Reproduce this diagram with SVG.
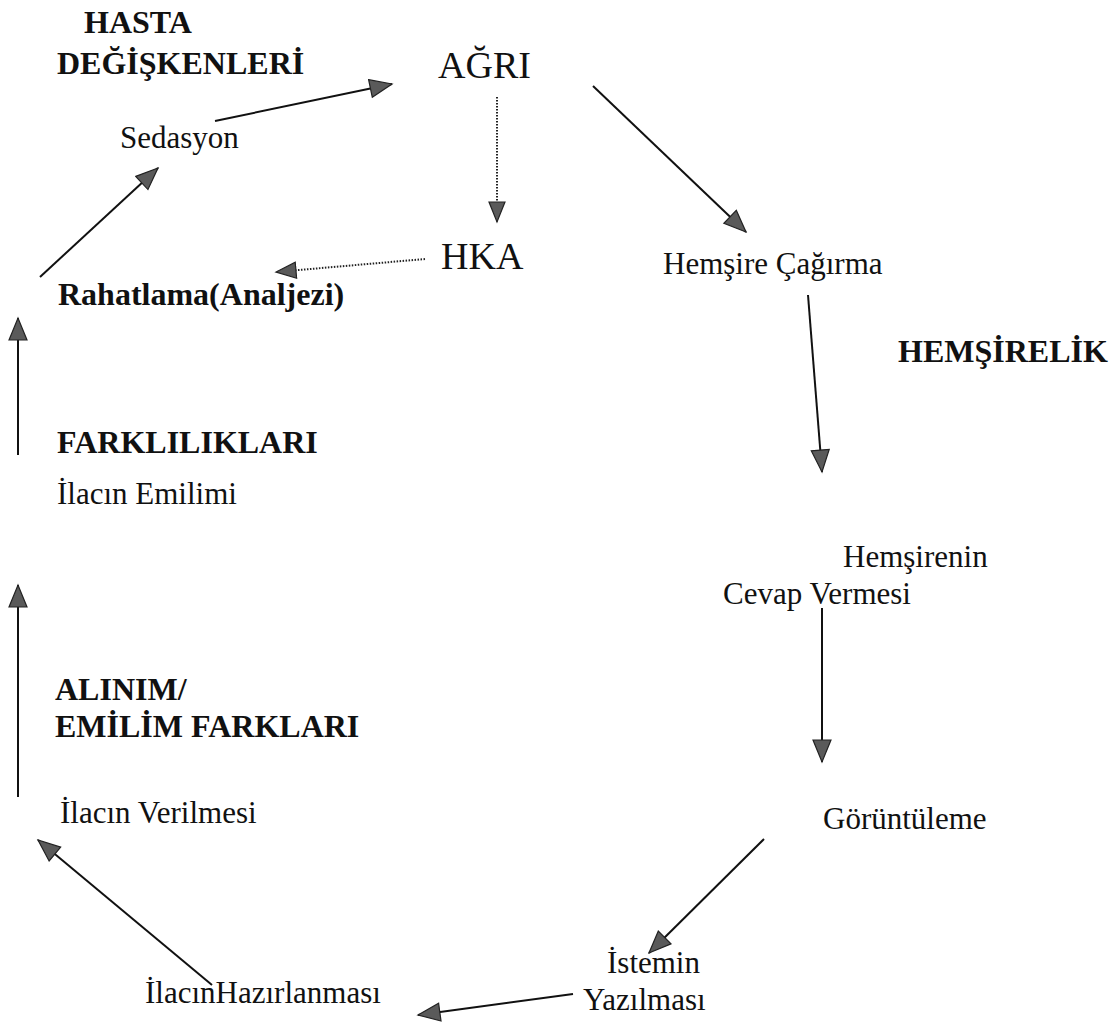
<svg xmlns="http://www.w3.org/2000/svg" width="1119" height="1023" viewBox="0 0 1119 1023">
<defs>
<marker id="ah" markerUnits="userSpaceOnUse" markerWidth="26" markerHeight="22" refX="23" refY="10" orient="auto">
<path d="M1,1 L23,10 L1,19 Z" fill="#5a5a5a" stroke="#222" stroke-width="1.2"/>
</marker>
<marker id="ahs" markerUnits="userSpaceOnUse" markerWidth="24" markerHeight="20" refX="21" refY="9" orient="auto">
<path d="M1,1 L21,9 L1,17 Z" fill="#5a5a5a" stroke="#222" stroke-width="1.2"/>
</marker>
</defs>
<style>
text{font-family:"Liberation Serif","Times New Roman",serif;fill:#111}
.r{font-size:31px}
.b{font-size:32px;font-weight:bold}
.big{font-size:38px}
.c{stroke:#111;stroke-width:2;fill:none;marker-end:url(#ah)}
.d{stroke:#222;stroke-width:2;stroke-dasharray:1.5 1.5;fill:none;marker-end:url(#ahs)}
</style>
<rect width="1119" height="1023" fill="#fff"/>
<g id="connectors">
<line class="c" x1="215" y1="121" x2="392" y2="84"/>
<line class="c" x1="593" y1="86" x2="746" y2="232"/>
<line class="d" x1="497" y1="97" x2="497" y2="222"/>
<line class="d" x1="425" y1="259" x2="276" y2="272"/>
<line class="c" x1="40" y1="277" x2="158" y2="168"/>
<line class="c" x1="18" y1="455" x2="18" y2="318"/>
<line class="c" x1="18" y1="797" x2="18" y2="585"/>
<line class="c" x1="808" y1="295" x2="822" y2="472"/>
<line class="c" x1="822" y1="608" x2="822" y2="762"/>
<line class="c" x1="764" y1="839" x2="649" y2="953"/>
<line class="c" x1="573" y1="994" x2="418" y2="1015"/>
<line class="c" x1="212" y1="985" x2="38" y2="840"/>
</g>
<g id="hasta"><text class="b" x="84" y="33">HASTA</text><text class="b" x="57" y="74">DEĞİŞKENLERİ</text></g>
<g id="agri"><text class="big" x="438" y="78">AĞRI</text></g>
<g id="sedasyon"><text class="r" x="120" y="148">Sedasyon</text></g>
<g id="hka"><text class="big" x="441" y="269">HKA</text></g>
<g id="hemsire-cagirma"><text class="r" x="663" y="274">Hemşire Çağırma</text></g>
<g id="rahatlama"><text class="b" x="58" y="305">Rahatlama(Analjezi)</text></g>
<g id="hemsirelik"><text class="b" x="898" y="362">HEMŞİRELİK</text></g>
<g id="farkliliklari"><text class="b" x="57" y="453">FARKLILIKLARI</text></g>
<g id="ilacin-emilimi"><text class="r" x="57" y="504">İlacın Emilimi</text></g>
<g id="hemsirenin-cevap"><text class="r" x="843" y="567">Hemşirenin</text><text class="r" x="723" y="604">Cevap Vermesi</text></g>
<g id="alinim"><text class="b" x="55" y="700">ALINIM/</text><text class="b" x="55" y="737">EMİLİM FARKLARI</text></g>
<g id="ilacin-verilmesi"><text class="r" x="60" y="823">İlacın Verilmesi</text></g>
<g id="goruntuleme"><text class="r" x="823" y="829">Görüntüleme</text></g>
<g id="istemin"><text class="r" x="607" y="973">İstemin</text><text class="r" x="583" y="1010">Yazılması</text></g>
<g id="ilacin-hazirlanmasi"><text class="r" x="145" y="1003">İlacınHazırlanması</text></g>
</svg>
